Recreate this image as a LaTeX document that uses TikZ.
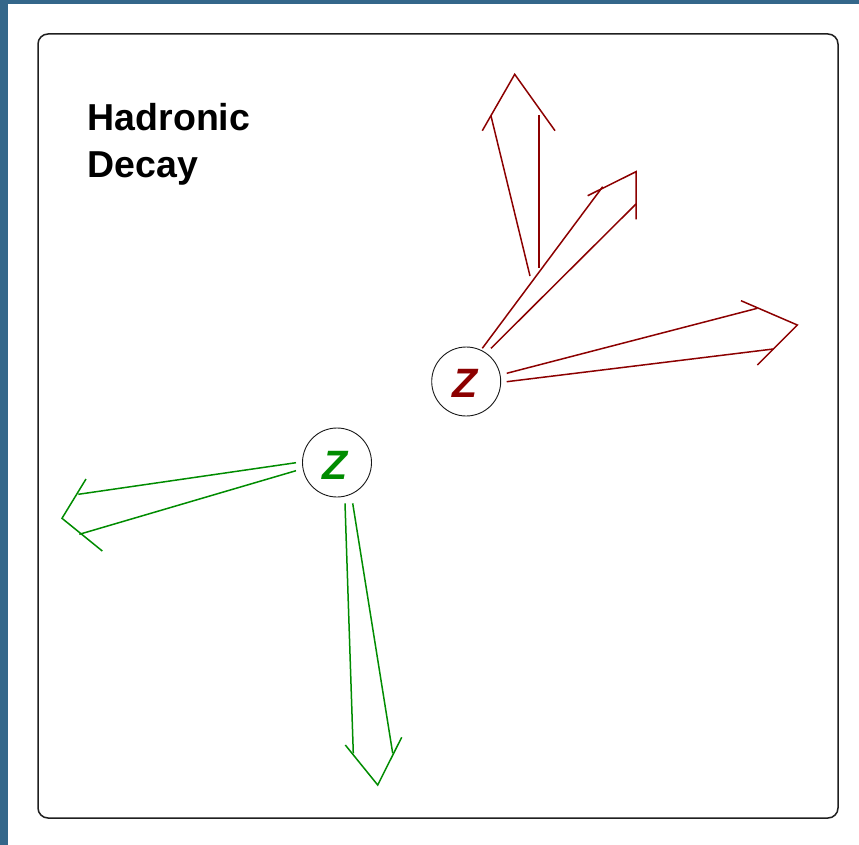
\documentclass[tikz,border=0pt]{standalone}
\usepackage{fontspec}
\setmainfont{Liberation Sans}
\definecolor{frameblue}{RGB}{52,103,138}
\definecolor{jetred}{RGB}{140,0,0}
\definecolor{jetgreen}{RGB}{0,140,0}
\begin{document}
\begin{tikzpicture}[x=1pt,y=-1pt,
  redjet/.style={draw=jetred, line width=1.5pt},
  greenjet/.style={draw=jetgreen, line width=1.5pt},
  zcircle/.style={circle, draw=black!90, line width=0.9pt, minimum size=69pt, inner sep=0pt},
  zlabel/.style={font=\bfseries\itshape\fontsize{41}{41}\selectfont, inner sep=0pt},
  titletext/.style={font=\bfseries\fontsize{37.5}{42}\selectfont, inner sep=0pt, anchor=base west}]
\useasboundingbox (0,0) rectangle (859,845);
\fill[white] (0,0) rectangle (859,845);
\fill[frameblue] (0,0) rectangle (7.5,845);
\fill[frameblue] (0,0) rectangle (859,4);
\draw[line width=1.5pt, draw=black!88, rounded corners=10pt] (38,34) rectangle (838,818);

\node[titletext] (title1) at (87.5,131) {Hadronic};
\node[titletext] (title2) at (87.5,178) {Decay};

% red Z
\node[zcircle] (zred) at (466.2,381.5) {};
\node[zlabel, text=jetred] (zredlabel) at (465.5,383.3) {Z};
% green Z
\node[zcircle] (zgreen) at (337,462.5) {};
\node[zlabel, text=jetgreen] (zgreenlabel) at (335.5,465.8) {Z};

% red jet 1 (up)
\draw[redjet] (530,276) -- (491,116);
\draw[redjet] (539,268) -- (539,115);
\draw[redjet] (482.3,130.7) -- (514.7,74.3) -- (555,130.7);
% red jet 2 (upper right)
\draw[redjet] (482.3,348.3) -- (602.7,186.7);
\draw[redjet] (587.7,195.7) -- (636,171.7) -- (636,219.3);
\draw[redjet] (491,348.3) -- (636,204);
% red jet 3 (right)
\draw[redjet] (506.7,373.3) -- (757.3,308.3);
\draw[redjet] (741,300.7) -- (797.3,325) -- (757.3,365);
\draw[redjet] (506.7,381.7) -- (773.3,349);

% green jet 1 (left)
\draw[greenjet] (296,462.7) -- (78.3,494.3);
\draw[greenjet] (296,470.7) -- (79.3,534.3);
\draw[greenjet] (86,479) -- (62,518.3) -- (102.3,551);
% green jet 2 (down)
\draw[greenjet] (345,503.3) -- (353.3,753.3);
\draw[greenjet] (352.7,503.3) -- (392.7,753.3);
\draw[greenjet] (345.3,745) -- (377.7,785) -- (401.7,737.3);
\end{tikzpicture}
\end{document}
